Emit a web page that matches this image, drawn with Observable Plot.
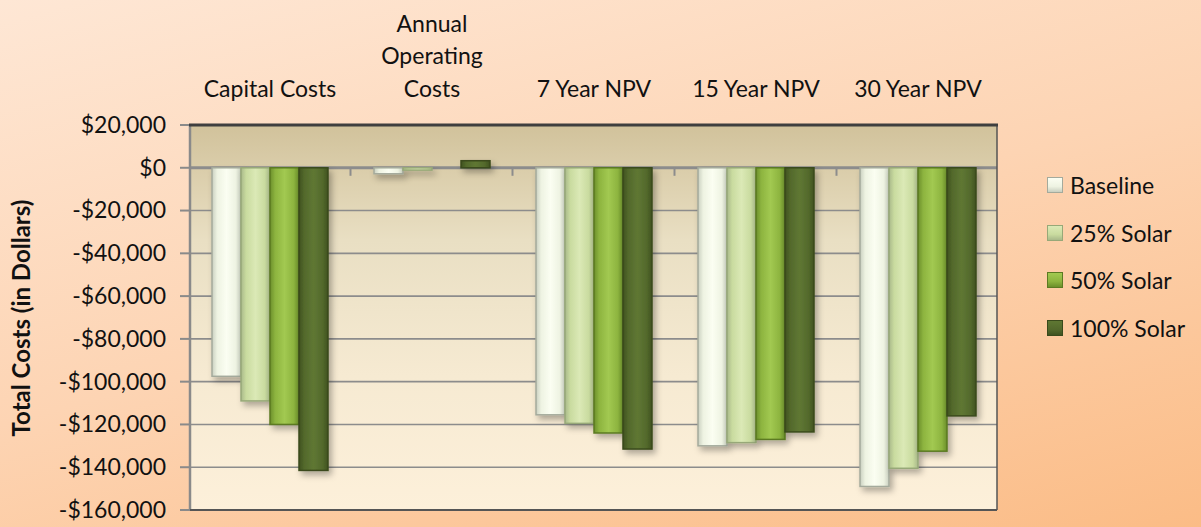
<!DOCTYPE html>
<html><head><meta charset="utf-8">
<script src="https://cdn.jsdelivr.net/npm/d3@7"></script>
<script src="https://cdn.jsdelivr.net/npm/@observablehq/plot@0.6"></script>
<style>
html,body{margin:0;padding:0;}
#wrap{position:relative;width:1201px;height:527px;background:linear-gradient(165deg,#fee7d5 0%,#fdd4b3 50%,#fbbc86 100%);font-family:Lato,"Open Sans",sans-serif;overflow:hidden}
#chart{position:absolute;left:0;top:0}
#legend{position:absolute;left:1047px;top:161px;}
.item{display:flex;align-items:center;height:47.7px;font-size:23px;color:#111}
.sw{width:16px;height:16px;margin-right:7px;box-sizing:border-box}
</style></head><body><div id="wrap"><div id="chart"></div><div id="legend"></div></div>
<script>
const categories = ["Capital Costs", "Annual Operating Costs", "7 Year NPV", "15 Year NPV", "30 Year NPV"];
const series = ["Baseline", "25% Solar", "50% Solar", "100% Solar"];
const baseline = [-97500, -2800, -115500, -130000, -149000];
const solar25  = [-109000, -1100, -119500, -128500, -140500];
const solar50  = [-120000, 0, -124000, -127000, -132500];
const solar100 = [-141500, 3300, -131500, -123500, -116000];
const yTicks = [20000, 0, -20000, -40000, -60000, -80000, -100000, -120000, -140000, -160000];

const values = [baseline, solar25, solar50, solar100];
const data = categories.flatMap((c, i) => series.map((s, j) => ({category: c, series: s, value: values[j][i]})));

// styling
const gradStops = [
  ["#c9cfc0", "#eef3e2", "#fbfef2"],
  ["#a9b98a", "#c9db9f", "#dbe9b6"],
  ["#6b8f2a", "#8db43f", "#a2c951"],
  ["#3f5220", "#53692c", "#5f7733"]
];
const strokes = ["#a4aa9c", "#97a878", "#5b7a22", "#3a4a1c"];

const fmt = d => (d < 0 ? "-" : "") + "$" + d3.format(",")(Math.abs(d));
const W = 1201, H = 527, mL = 190, mR = 204, mT = 125, mB = 17;
const padIn = 0.276, padOut = 0.1135;
// offset of the first facet from the frame's left edge (the y axis is drawn relative to it)
const facetOff = padOut * (W - mL - mR) / (categories.length - padIn + 2 * padOut);

const plot = Plot.plot({
  width: W, height: H,
  marginLeft: mL, marginRight: mR, marginTop: mT, marginBottom: mB,
  style: {background: "transparent", fontFamily: "Lato, 'Open Sans', sans-serif", fontSize: "23px", color: "#111", overflow: "visible"},
  fx: {domain: categories, paddingInner: padIn, paddingOuter: padOut, label: null},
  x: {domain: series, padding: 0, axis: null},
  y: {domain: [-160000, 20000], label: null},
  marks: [
    Plot.axisFx({anchor: "top", tickSize: 0, tickPadding: 29, lineHeight: 1.4, fontSize: 23, label: null,
      tickFormat: d => d === "Annual Operating Costs" ? "Annual\nOperating\nCosts" : d}),
    Plot.axisY({ticks: yTicks, tickFormat: fmt, tickSize: 0, tickPadding: facetOff + 27, fontSize: 23,
      label: "Total Costs (in Dollars)", labelAnchor: "center", labelOffset: facetOff + 180, labelArrow: "none"}),
    ...series.map((s, i) => Plot.barY(data, {
      filter: d => d.series === s,
      fx: "category", x: "series", y: "value",
      fill: `url(#grad${i})`, stroke: strokes[i], strokeWidth: 1.5
    }))
  ]
});
document.getElementById("chart").appendChild(plot);

const svg = d3.select(plot);
const y = plot.scale("y");
const fx = plot.scale("fx");
const x0 = mL, x1 = W - mR, yTop = y.apply(20000), yBot = y.apply(-160000), yZero = y.apply(0);

let defs = `<filter id="shadow" x="-30%" y="-10%" width="160%" height="130%"><feDropShadow dx="3" dy="4" stdDeviation="3" flood-color="#000" flood-opacity="0.3"/></filter>
<linearGradient id="plotbg" x1="0" y1="0" x2="0" y2="1"><stop offset="0" stop-color="#d1c29b"/><stop offset="0.3" stop-color="#e9dfc3"/><stop offset="0.65" stop-color="#f6ead2"/><stop offset="1" stop-color="#fdf0da"/></linearGradient>`;
gradStops.forEach((g, i) => {
  defs += `<linearGradient id="grad${i}" x1="0" y1="0" x2="1" y2="0"><stop offset="0" stop-color="${g[0]}"/><stop offset="0.18" stop-color="${g[1]}"/><stop offset="0.5" stop-color="${g[2]}"/><stop offset="0.82" stop-color="${g[1]}"/><stop offset="1" stop-color="${g[0]}"/></linearGradient>`;
});
svg.insert("defs", ":first-child").html(defs);

const bg = svg.insert("g", "defs + *").attr("aria-label", "plot area");
bg.append("rect").attr("x", x0).attr("y", yTop).attr("width", x1 - x0).attr("height", yBot - yTop).attr("fill", "url(#plotbg)");
yTicks.forEach(t => {
  const ty = y.apply(t);
  bg.append("line").attr("x1", x0 - 10).attr("x2", x0).attr("y1", ty).attr("y2", ty).attr("stroke", "#8a8a8a").attr("stroke-width", 2);
  if (t === 20000 || t === -160000) return;
  bg.append("line").attr("x1", x0).attr("x2", x1).attr("y1", ty).attr("y2", ty)
    .attr("stroke", "#8c8c8c").attr("stroke-width", t === 0 ? 3 : 1.6);
});
// category boundary ticks on the zero axis
const step = fx.step, bw = fx.bandwidth;
categories.forEach((c, i) => {
  if (i === categories.length - 1) return;
  const bx = fx.apply(c) + bw + (step - bw) / 2;
  bg.append("line").attr("x1", bx).attr("x2", bx).attr("y1", yZero).attr("y2", yZero + 8).attr("stroke", "#8c8c8c").attr("stroke-width", 2);
});
bg.append("line").attr("x1", x0).attr("x2", x0).attr("y1", yTop).attr("y2", yBot).attr("stroke", "#8a8a8a").attr("stroke-width", 2.5);
bg.append("line").attr("x1", x1).attr("x2", x1).attr("y1", yTop).attr("y2", yBot).attr("stroke", "#555").attr("stroke-width", 1.5);
bg.append("line").attr("x1", x0).attr("x2", x1).attr("y1", yBot).attr("y2", yBot).attr("stroke", "#555").attr("stroke-width", 2);
bg.append("line").attr("x1", x0 - 1).attr("x2", x1 + 1).attr("y1", yTop).attr("y2", yTop).attr("stroke", "#3f3f3f").attr("stroke-width", 3);

svg.selectAll('g[aria-label="bar"]').attr("filter", "url(#shadow)");
svg.selectAll('g[aria-label="y-axis label"] text').attr("font-weight", "bold").attr("font-size", 24).attr("fill", "#111");
svg.selectAll('g[aria-label="y-axis tick label"] text, g[aria-label="fx-axis tick label"] text').attr("fill", "#111");

// legend
const legend = d3.select("#legend");
series.forEach((s, i) => {
  const it = legend.append("div").attr("class", "item");
  it.append("div").attr("class", "sw")
    .style("background", `linear-gradient(180deg, ${gradStops[i][2]}, ${gradStops[i][1]} 60%, ${gradStops[i][0]})`)
    .style("border", `1.5px solid ${strokes[i]}`);
  it.append("span").text(s);
});
</script></body></html>
